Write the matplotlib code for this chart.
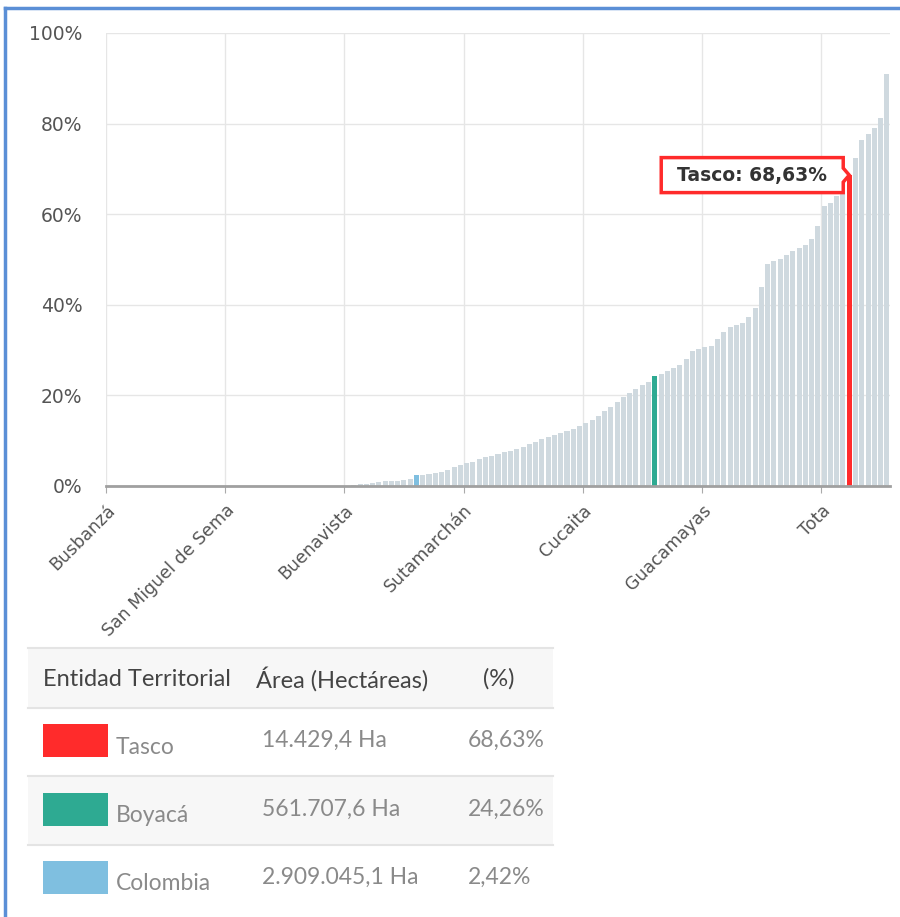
import matplotlib
matplotlib.use('Agg')
import matplotlib.pyplot as plt
from matplotlib.patches import Polygon, Rectangle
from matplotlib.lines import Line2D
import numpy as np

# Percent of territory per municipality (sorted), plus Boyacá and Colombia
values = [0.0] * 39 + [
    0.2, 0.4, 0.5, 0.7, 0.8, 1.0, 1.1, 1.2, 1.3, 1.6,
    2.42, 2.5, 2.7, 2.9, 3.1, 3.5, 4.1, 4.6, 5.0, 5.4,
    5.9, 6.3, 6.7, 7.1, 7.4, 7.8, 8.2, 8.6, 9.2, 9.7,
    10.3, 10.9, 11.3, 11.6, 12.1, 12.6, 13.2, 14.0, 14.6, 15.5,
    16.5, 17.4, 18.5, 19.6, 20.6, 21.5, 22.3, 23.0, 24.26, 24.8,
    25.3, 26.0, 26.8, 28.0, 29.8, 30.2, 30.6, 31.0, 32.5, 34.0,
    35.0, 35.6, 36.0, 37.2, 39.2, 44.0, 49.0, 49.6, 50.1, 51.0,
    51.8, 52.6, 53.2, 54.5, 57.5, 61.8, 62.5, 64.0, 66.5, 68.63,
    72.5, 76.3, 77.8, 79.0, 81.2, 90.9,
]
tick_idx = [0, 19, 38, 57, 76, 95, 114]
tick_names = ['Busbanzá', 'San Miguel de Sema', 'Buenavista', 'Sutamarchán',
              'Cucaita', 'Guacamayas', 'Tota']
highlight = {118: '#ff2b2b', 87: '#2eaa92', 49: '#7fbfe0'}
yticks = [0, 20, 40, 60, 80, 100]

table_names = ['Tasco', 'Boyacá', 'Colombia']
table_area = ['14.429,4 Ha', '561.707,6 Ha', '2.909.045,1 Ha']
table_pct = ['68,63%', '24,26%', '2,42%']
table_colors = ['#ff2b2b', '#2eaa92', '#7fbfe0']

W, H = 900, 917
fig = plt.figure(figsize=(W / 100, H / 100), dpi=100)

def fx(px):
    return px / W

def fy(py):
    return 1 - py / H

ax = fig.add_axes([fx(106), fy(486), 784 / W, 453 / H])
x = np.arange(len(values))
colors = [highlight.get(i, '#cfd9df') for i in x]
ax.bar(x, values, width=0.8, color=colors, zorder=2)
ax.set_xlim(-0.5, len(values) - 0.5)
ax.set_ylim(0, 100)

ax.set_yticks(yticks)
ax.set_yticklabels([f'{v}%' for v in yticks], fontsize=13.5, color='#555555')
ax.set_xticks([i - 0.5 for i in tick_idx])
ax.set_xticklabels(tick_names, rotation=45, ha='right', rotation_mode='anchor',
                   fontsize=12.5, color='#555555')
ax.tick_params(axis='y', length=0, pad=17)
ax.tick_params(axis='x', length=5, color='#aaaaaa', pad=6)
ax.grid(True, color='#e6e6e6', linewidth=1, zorder=0)
for s in ['top', 'right', 'left']:
    ax.spines[s].set_visible(False)
ax.spines['bottom'].set_color('#a0a0a0')
ax.spines['bottom'].set_linewidth(2)
ax.spines['bottom'].set_zorder(3)

# tooltip callout for Tasco
tasco = 118
fig.canvas.draw()
tx, ty = ax.transData.transform((tasco, values[tasco]))
bw, bh, gap, ah = 182, 35, 6, 7
r = tx - gap
l = r - bw
poly = [(l, ty - bh / 2), (r, ty - bh / 2), (r, ty - ah), (tx, ty), (r, ty + ah),
        (r, ty + bh / 2), (l, ty + bh / 2)]
fig.patches.append(Polygon(poly, closed=True, transform=None, facecolor='white',
                           edgecolor='#ff2b2b', linewidth=2.5, zorder=10))
fig.text((l + r) / 2 / W, ty / H, f'Tasco: {values[tasco]:.2f}%'.replace('.', ','),
         ha='center', va='center', fontsize=13.5, fontweight='bold',
         color='#333333', zorder=11)

# blue frame
fig.add_artist(Line2D([fx(5), fx(5)], [fy(8), 0], color='#5b8fd6', linewidth=2.5))
fig.add_artist(Line2D([fx(5), 1], [fy(8), fy(8)], color='#5b8fd6', linewidth=2.5))

# table
tl, tr = 28, 553
fig.patches.append(Rectangle((fx(tl), fy(708)), (tr - tl) / W, 60 / H,
                             transform=fig.transFigure, facecolor='#f7f7f7', edgecolor='none'))
fig.patches.append(Rectangle((fx(tl), fy(845)), (tr - tl) / W, 69 / H,
                             transform=fig.transFigure, facecolor='#f7f7f7', edgecolor='none'))
for ly in [648, 708, 776, 845]:
    fig.add_artist(Line2D([fx(tl), fx(tr)], [fy(ly), fy(ly)], color='#e4e4e4', linewidth=1.5))

tfont = 'Lato'
fig.text(fx(43), fy(679), 'Entidad Territorial', fontsize=17, color='#444444',
         family=tfont, va='center')
fig.text(fx(256), fy(679), 'Área (Hectáreas)', fontsize=17, color='#444444',
         family=tfont, va='center')
fig.text(fx(499), fy(679), '(%)', fontsize=17, color='#444444',
         family=tfont, va='center', ha='center')

row_tops = [724, 793, 861]
for k in range(3):
    top = row_tops[k]
    fig.patches.append(Rectangle((fx(43), fy(top + 33)), 65 / W, 33 / H,
                                 transform=fig.transFigure, facecolor=table_colors[k],
                                 edgecolor='none'))
    fig.text(fx(116), fy(top + 23), table_names[k], fontsize=16.5, color='#8a8a8a',
             family=tfont, va='center')
    fig.text(fx(262), fy(top + 16), table_area[k], fontsize=16.5, color='#8a8a8a',
             family=tfont, va='center')
    fig.text(fx(468), fy(top + 16), table_pct[k], fontsize=16.5, color='#8a8a8a',
             family=tfont, va='center')

fig.savefig('out.png', dpi=100)
